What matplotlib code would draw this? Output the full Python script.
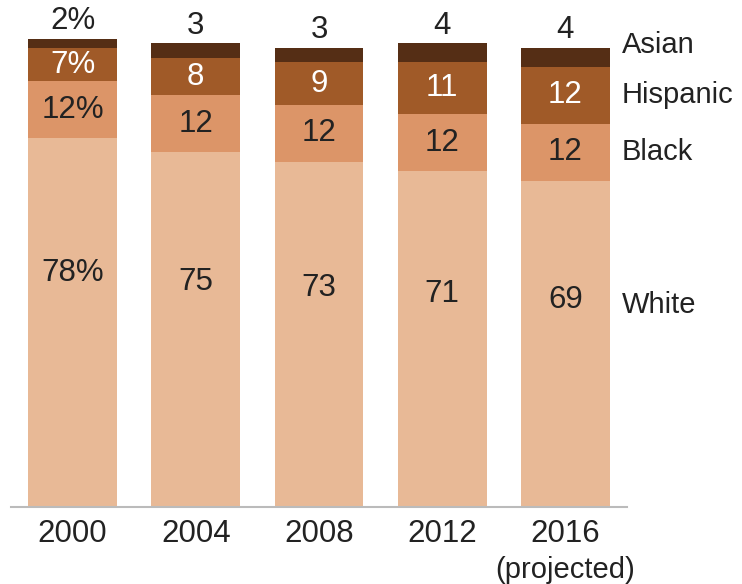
import matplotlib.pyplot as plt
import numpy as np

years = ['2000', '2004', '2008', '2012', '2016']
year_note = '(projected)'
white = [78, 75, 73, 71, 69]
black = [12, 12, 12, 12, 12]
hispanic = [7, 8, 9, 11, 12]
asian = [2, 3, 3, 4, 4]

groups = ['White', 'Black', 'Hispanic', 'Asian']
colors = ['#E8B996', '#DC9568', '#A05A28', '#552E15']

plt.rcParams['font.family'] = ['Liberation Sans', 'DejaVu Sans']

fig = plt.figure(figsize=(7.42, 5.84), dpi=100)
ax = fig.add_axes([11 / 742, 77 / 584, 616 / 742, 473 / 584])

x = np.arange(len(years))
w = 0.72
series = [white, black, hispanic, asian]
bottom = np.zeros(len(years))
for vals, col in zip(series, colors):
    ax.bar(x, vals, w, bottom=bottom, color=col, edgecolor='none')
    bottom += np.array(vals)

fs = 22.5     # numbers
fs_word = 21  # words (narrower font in the original)
txt = '#222222'
pct = lambda i, v: f'{v}%' if i == 0 else f'{v}'
for i in range(len(years)):
    # white label sits in the upper part of the segment
    ax.text(x[i], white[i] * 0.635, pct(i, white[i]), ha='center', va='center',
            fontsize=fs, color=txt)
    b = white[i]
    ax.text(x[i], b + black[i] / 2, pct(i, black[i]), ha='center', va='center',
            fontsize=fs, color=txt)
    b += black[i]
    ax.text(x[i], b + hispanic[i] / 2, pct(i, hispanic[i]), ha='center', va='center',
            fontsize=fs, color='white')
    b += hispanic[i] + asian[i]
    ax.text(x[i], b + 2.1, pct(i, asian[i]), ha='center', va='baseline',
            fontsize=fs, color=txt, clip_on=False)

# group labels on the right of the last bar
last = len(years) - 1
top = white[last] + black[last] + hispanic[last] + asian[last]
side_y = [white[last] * 0.62,
          white[last] + black[last] / 2,
          white[last] + black[last] + hispanic[last] / 2,
          top + 0.7]
for g, yv in zip(groups, side_y):
    ax.text(x[last] + w / 2 + 0.1, yv, g, ha='left', va='center',
            fontsize=fs_word, color=txt, clip_on=False)

ax.set_xlim(-0.5, 4.5)
ax.set_ylim(0, 100)
ax.set_xticks(x)
ax.set_xticklabels(years, fontsize=fs, color=txt)
ax.tick_params(axis='x', length=0, pad=9)
ax.annotate(year_note, xy=(x[last], 0), xycoords=('data', 'axes fraction'),
            xytext=(0, -63), textcoords='offset pixels', ha='center', va='center',
            fontsize=fs_word, color=txt)
ax.set_yticks([])
for s in ['top', 'right', 'left']:
    ax.spines[s].set_visible(False)
ax.spines['bottom'].set_color('#BBBBBB')
ax.spines['bottom'].set_linewidth(1.5)

fig.savefig('out.png', dpi=100)
